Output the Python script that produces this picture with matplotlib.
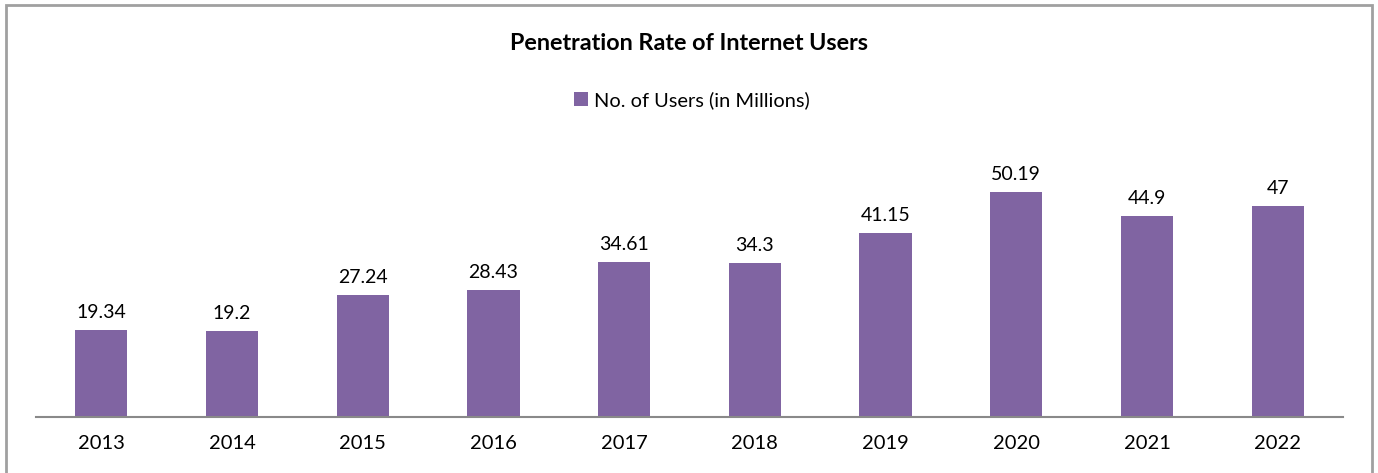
import matplotlib.pyplot as plt
from matplotlib.patches import Rectangle

years = ["2013", "2014", "2015", "2016", "2017", "2018", "2019", "2020", "2021", "2022"]
users = [19.34, 19.2, 27.24, 28.43, 34.61, 34.3, 41.15, 50.19, 44.9, 47]
labels = ["19.34", "19.2", "27.24", "28.43", "34.61", "34.3", "41.15", "50.19", "44.9", "47"]

plt.rcParams['font.family'] = ['Lato', 'DejaVu Sans']

fig = plt.figure(figsize=(13.78, 4.73), dpi=100)
ax = fig.add_axes([0.0261, 0.1184, 0.9485, 0.5687])

x = range(len(years))
bars = ax.bar(x, users, width=0.4, color='#8064A2', label='No. of Users (in Millions)')
for b, t in zip(bars, labels):
    ax.text(b.get_x() + b.get_width() / 2, b.get_height() + 2.0, t,
            ha='center', va='bottom', fontsize=14)

ax.set_xlim(-0.5, len(years) - 0.5)
ax.set_ylim(0, 60)
ax.set_xticks(list(x))
ax.set_xticklabels(years, fontsize=14.5)
ax.tick_params(axis='x', length=0, pad=13)
ax.set_yticks([])
for s in ['top', 'right', 'left']:
    ax.spines[s].set_visible(False)
ax.spines['bottom'].set_color('#898989')
ax.spines['bottom'].set_linewidth(1.5)

fig.text(0.5, 0.909, "Penetration Rate of Internet Users", ha='center', va='center',
         fontsize=16.8, fontweight='bold')
fig.legend(loc='center', bbox_to_anchor=(0.502, 0.788), frameon=False, fontsize=14.4,
           handlelength=0.7, handleheight=0.7, handletextpad=0.3)

# outer chart border
fig.patches.append(Rectangle((6 / 1378, -0.05), 1366 / 1378, 1.039, transform=fig.transFigure,
                             fill=False, edgecolor='#a0a0a0', linewidth=2))

fig.savefig("out.png", dpi=100)
